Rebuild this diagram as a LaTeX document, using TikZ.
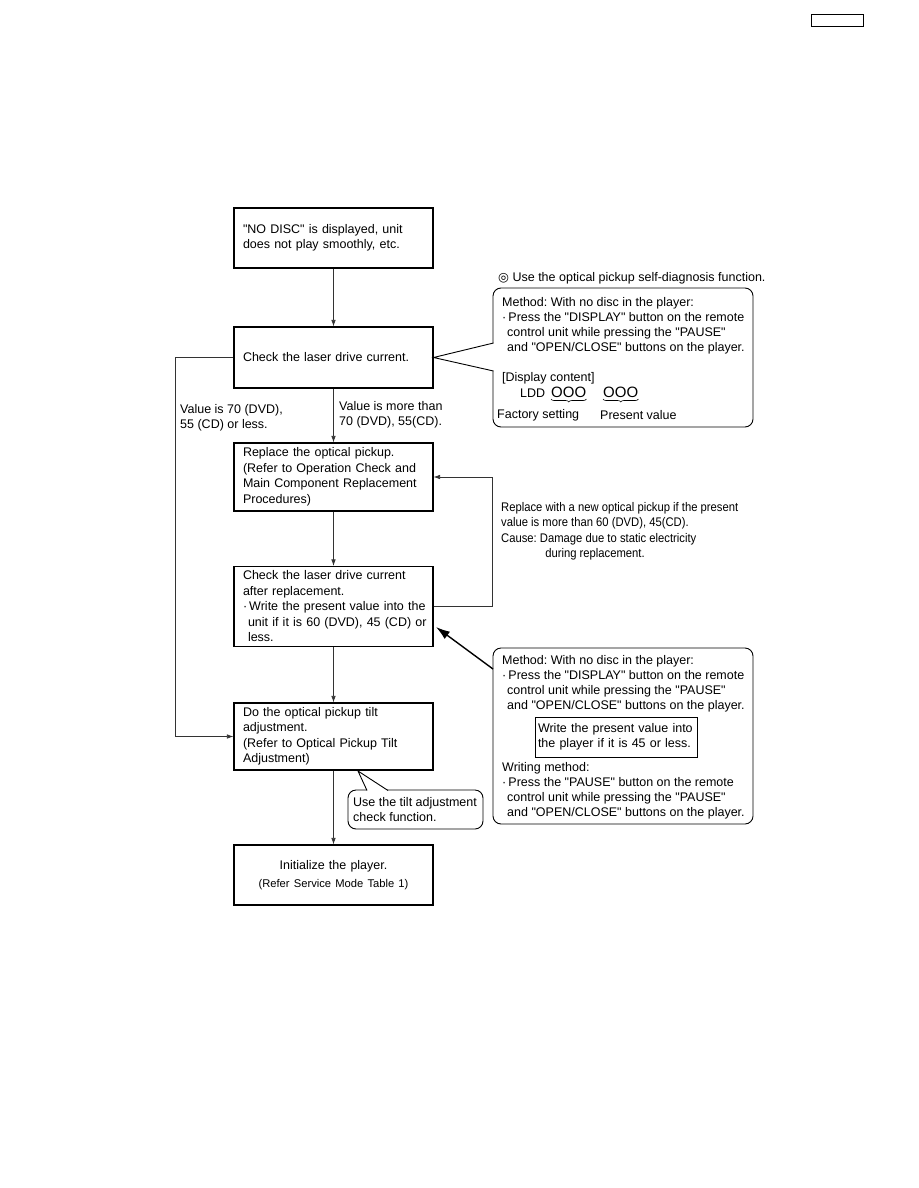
\documentclass[tikz,border=0pt]{standalone}
\usepackage{fontspec}
\setmainfont{Liberation Sans}[Ligatures=TeXOff]
\newfontfamily\dejavu{DejaVu Sans}
\usepackage{graphicx}
\usetikzlibrary{arrows.meta,decorations.pathreplacing}
\frenchspacing
\newcommand\myfs{\fontsize{12.5}{15.5}\selectfont}
\newcommand\cofs{\fontsize{12.5}{15}\selectfont}
\newcommand\smfs{\fontsize{11.2}{14}\selectfont}
\newcommand\bul{\textperiodcentered\,}
\begin{document}
\begin{tikzpicture}[x=1pt,y=-1pt,
 flowbox/.style={draw,line width=1.1pt,text width=181pt,inner xsep=9pt,inner ysep=0pt,align=left,font=\myfs},
 conn/.style={draw=black!80,line width=0.7pt},
 arr/.style={conn,-{Latex[length=6.5pt,width=4.5pt]}},
 bigarr/.style={draw=black,line width=1.4pt,-{Latex[length=14pt,width=9pt]}},
 callout/.style={draw,line width=0.9pt,rounded corners=8pt,fill=white,inner sep=0pt},
 txt/.style={inner sep=0pt,anchor=north west,align=left,font=\cofs},
 lbl/.style={inner sep=0pt,anchor=north west,align=left,font=\myfs},
 ptr/.style={draw,line width=0.9pt,line join=miter},
 brc/.style={draw,line width=0.6pt,decorate,decoration={brace,mirror,amplitude=3pt}},
]
\frenchspacing
\useasboundingbox (0,0) rectangle (918,1188);
\fill[white] (0,0) rectangle (918,1188);

% top-right tag
\node[draw,line width=1pt,minimum width=52pt,minimum height=12pt,inner sep=0pt] (tag) at (837,21) {};

% flow boxes
\node[flowbox,minimum height=60pt] (b1) at (333.5,238) {"NO DISC" is displayed, unit\\does not play smoothly, etc.};
\node[flowbox,minimum height=61pt] (b2) at (333.5,357.5) {Check the laser drive current.};
\node[flowbox,minimum height=68pt] (b3) at (333.5,477) {Replace the optical pickup.\\(Refer to Operation Check and\\Main Component Replacement\\Procedures)};
\node[flowbox,minimum height=80pt] (b4) at (333.5,606.5) {Check the laser drive current\\after replacement.\\\mbox{\bul Write the present value into the}\\\mbox{\hspace*{5pt}unit if it is 60 (DVD), 45 (CD) or}\\\hspace*{5pt}less.};
\node[flowbox,minimum height=67pt] (b5) at (333.5,736.5) {Do the optical pickup tilt\\adjustment.\\(Refer to Optical Pickup Tilt\\Adjustment)};
\node[flowbox,minimum height=60pt,align=center] (b6) at (333.5,875) {Initialize the player.\\[2pt]{\smfs (Refer Service Mode Table 1)}};

% connectors
\draw[arr] (b1) -- (b2);
\draw[arr] (b2) -- (b3);
\draw[arr] (b3) -- (b4);
\draw[arr] (b4) -- (b5);
\draw[arr] (b5) -- (b6);
\draw[arr] (b2.west) -- ++(-58.5,0) |- (b5.west);
\draw[arr] (b4.east) -- ++(59,0) |- (b3.east);

% labels on connectors
\node[lbl] (l1) at (180,404) {Value is 70 (DVD),\\55 (CD) or less.};
\node[lbl] (l2) at (339,401) {Value is more than\\70 (DVD), 55(CD).};

% callout 1
\node[inner sep=0pt,anchor=west,font=\myfs] (hint) at (498,278) {{\dejavu ◎} Use the optical pickup self-diagnosis function.};
\node[callout,minimum width=260pt,minimum height=139pt] (c1) at (623,357.5) {};
\coordinate (p1a) at (493.5,343);
\coordinate (p1b) at (493.5,371);
\fill[white] (b2.east) -- (p1a) -- ++(1,0) |- (p1b) -- cycle;
\draw[ptr] (p1a) -- (b2.east) -- (p1b);
\node[txt] (c1t) at (502,297.5) {Method: With no disc in the player:\\\bul Press the "DISPLAY" button on the remote\\\hspace*{5pt}control unit while pressing the "PAUSE"\\\hspace*{5pt}and "OPEN/CLOSE" buttons on the player.};
\node[txt] (c1d) at (502,372) {[Display content]};
\node[inner sep=0pt,anchor=west,font=\myfs] (ldd) at (520,393) {LDD};
\node[inner sep=0pt,anchor=west,font=\fontsize{15}{16}\selectfont] (o1) at (551,392) {OOO};
\node[inner sep=0pt,anchor=west,font=\fontsize{15}{16}\selectfont] (o2) at (603,392) {OOO};
\draw[brc] ([yshift=-1.5pt]o1.south west) -- ([yshift=-1.5pt]o1.south east);
\draw[brc] ([yshift=-1.5pt]o2.south west) -- ([yshift=-1.5pt]o2.south east);
\node[inner sep=0pt,anchor=west,font=\myfs] (fs) at (497,415) {Factory setting};
\node[inner sep=0pt,anchor=west,font=\myfs] (pv) at (600,415) {Present value};

% replacement note
\node[inner sep=0pt,anchor=north west,font=\myfs] (note) at (501,500) {\scalebox{0.9}[1]{\begin{tabular}{@{}l@{}}Replace with a new optical pickup if the present\\value is more than 60 (DVD), 45(CD).\\Cause: Damage due to static electricity\\\hspace*{49pt}during replacement.\end{tabular}}};

% callout 2
\node[callout,minimum width=260pt,minimum height=176pt] (c2) at (623,736) {};
\node[txt] (c2t) at (502,655.5) {Method: With no disc in the player:\\\bul Press the "DISPLAY" button on the remote\\\hspace*{5pt}control unit while pressing the "PAUSE"\\\hspace*{5pt}and "OPEN/CLOSE" buttons on the player.};
\node[draw,line width=0.9pt,minimum width=162pt,minimum height=40pt,inner xsep=3pt,align=left,font=\cofs,text width=156pt] (c2b) at (616,737) {Write the present value into\\the player if it is 45 or less.};
\node[txt] (c2w) at (502,762.5) {Writing method:\\\bul Press the "PAUSE" button on the remote\\\hspace*{5pt}control unit while pressing the "PAUSE"\\\hspace*{5pt}and "OPEN/CLOSE" buttons on the player.};
\coordinate (bigs) at (493,669);
\coordinate (bige) at (436,627);
\draw[bigarr] (bigs) -- (bige);

% callout 3
\node[callout,minimum width=135pt,minimum height=39pt] (c3) at (415.5,809.5) {};
\coordinate (p3t) at (358,771);
\coordinate (p3a) at (367,790.5);
\coordinate (p3b) at (388,790.5);
\fill[white] (p3t) -- (p3a) -- ++(0,1) -| (p3b) -- cycle;
\draw[ptr] (p3a) -- (p3t) -- (p3b);
\node[txt] (c3t) at (353,797.5) {Use the tilt adjustment\\check function.};
\end{tikzpicture}
\end{document}
